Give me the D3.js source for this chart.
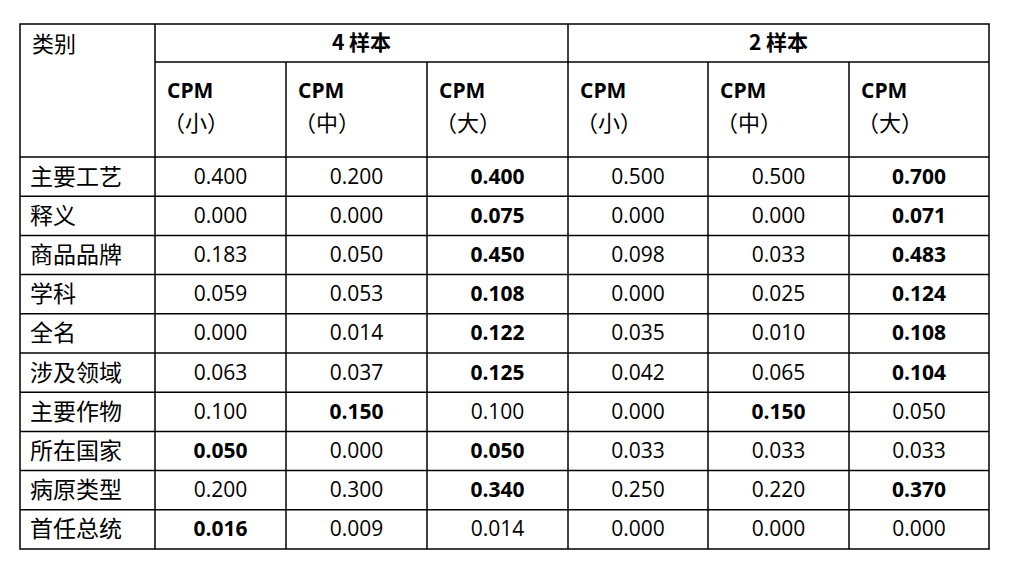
<!DOCTYPE html>
<html><head><meta charset="utf-8">
<script src="https://cdn.jsdelivr.net/npm/d3@7"></script>
<style>body{margin:0;background:#fff}</style></head>
<body><svg id="c" width="1009" height="570"></svg>
<script>
const categories=["主要工艺","释义","商品品牌","学科","全名","涉及领域","主要作物","所在国家","病原类型","首任总统"];
const groups=["4 样本","2 样本"];
const sizes=["（小）","（中）","（大）"];
const values=[
[0.400,0.200,0.400,0.500,0.500,0.700],
[0.000,0.000,0.075,0.000,0.000,0.071],
[0.183,0.050,0.450,0.098,0.033,0.483],
[0.059,0.053,0.108,0.000,0.025,0.124],
[0.000,0.014,0.122,0.035,0.010,0.108],
[0.063,0.037,0.125,0.042,0.065,0.104],
[0.100,0.150,0.100,0.000,0.150,0.050],
[0.050,0.000,0.050,0.033,0.033,0.033],
[0.200,0.300,0.340,0.250,0.220,0.370],
[0.016,0.009,0.014,0.000,0.000,0.000]];
const boldCols=[[2,5],[2,5],[2,5],[2,5],[2,5],[2,5],[1,4],[0,2],[2,5],[0]];

const svg=d3.select("#c");
const L=20,R=989,T=24,H1=62,H2=157,B=549;
const edges=[155,286,427,568,708,849,989];
const x=j=>edges[j];
const y=d3.scaleLinear().domain([0,categories.length]).range([H2,B]);
const cjk="'Noto Sans CJK SC',sans-serif", num="'Open Sans','Liberation Sans',sans-serif";
const g=svg.append("g").attr("stroke","#000").attr("stroke-width",1.5);
g.append("rect").attr("x",L).attr("y",T).attr("width",R-L).attr("height",B-T).attr("fill","none");
g.append("line").attr("x1",x(0)).attr("x2",R).attr("y1",H1).attr("y2",H1);
g.append("line").attr("x1",L).attr("x2",R).attr("y1",H2).attr("y2",H2);
d3.range(1,categories.length).forEach(i=>g.append("line").attr("x1",L).attr("x2",R).attr("y1",y(i)).attr("y2",y(i)));
g.append("line").attr("x1",x(0)).attr("x2",x(0)).attr("y1",T).attr("y2",B);
d3.range(1,6).forEach(j=>g.append("line").attr("x1",x(j)).attr("x2",x(j)).attr("y1",j==3?T:H1).attr("y2",B));
svg.append("text").attr("x",32).attr("y",52).attr("font-family",cjk).attr("font-size",22).text("类别");
groups.forEach((t,k)=>svg.append("text").attr("x",(x(k*3)+x(k*3+3))/2).attr("y",50).attr("text-anchor","middle")
 .attr("font-family",cjk).attr("font-weight","bold").attr("font-size",21).text(t));
d3.range(6).forEach(j=>{
 svg.append("text").attr("x",x(j)+12).attr("y",98).attr("font-family",num).attr("font-weight","bold").attr("font-size",21).text("CPM");
 svg.append("text").attr("x",x(j)+8).attr("y",131).attr("font-family",cjk).attr("font-size",22).text(sizes[j%3]);
});
categories.forEach((c,i)=>{
 svg.append("text").attr("x",30).attr("y",y(i+0.5)+8).attr("font-family",cjk).attr("font-size",23).text(c);
 values[i].forEach((v,j)=>svg.append("text").attr("x",(x(j)+x(j+1))/2).attr("y",y(i+0.5)+7)
  .attr("text-anchor","middle").attr("font-family",num).attr("font-size",21)
  .attr("font-weight",boldCols[i].includes(j)?"bold":"normal").text(v.toFixed(3)));
});
</script></body></html>
